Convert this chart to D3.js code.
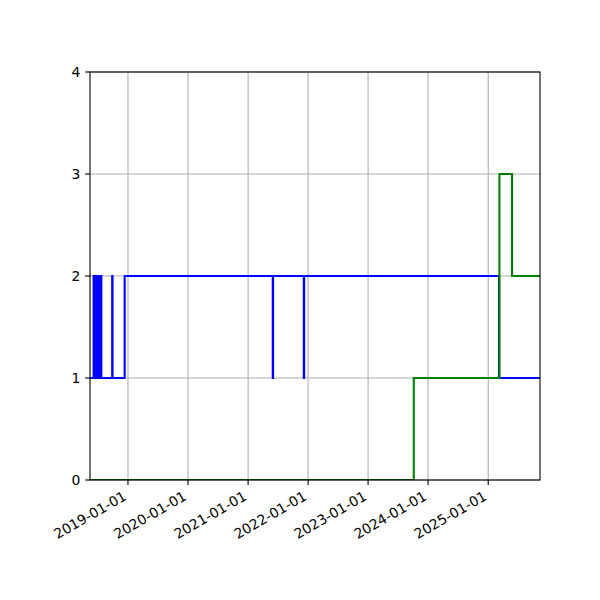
<!DOCTYPE html>
<html>
<head>
<meta charset="utf-8">
<script src="https://cdn.jsdelivr.net/npm/d3@7"></script>
<style>
  body { margin: 0; background: #fff; }
  text { font-family: "DejaVu Sans", sans-serif; font-size: 13.9px; fill: #000; }
</style>
</head>
<body>
<svg width="600" height="600"></svg>
<script>
// step series, value holds from its date until the next one
var blueDates = [
  "2018-05-15", "2018-06-06", "2018-06-08", "2018-06-10", "2018-06-13",
  "2018-06-15", "2018-06-18", "2018-06-20", "2018-06-23", "2018-06-26",
  "2018-06-29", "2018-07-02", "2018-07-05", "2018-07-08", "2018-07-11",
  "2018-07-14", "2018-07-17", "2018-07-20", "2018-07-23", "2018-09-27",
  "2018-09-29", "2018-12-12", "2021-05-31", "2021-06-02", "2021-12-06",
  "2021-12-08", "2025-03-08", "2025-11-12"
];
var blueValues = [
  1, 2, 1, 2, 1,
  2, 1, 2, 1, 2,
  1, 2, 1, 2, 1,
  2, 1, 2, 1, 2,
  1, 2, 1, 2, 1,
  2, 1, 1
];
var greenDates = ["2018-05-15", "2023-10-06", "2025-03-10", "2025-05-26", "2025-11-12"];
var greenValues = [0, 1, 3, 2, 2];
var yTicks = [0, 1, 2, 3, 4];

var svg = d3.select("svg");
var plotLeft = 90, plotRight = 540, plotTop = 72, plotBottom = 480;
var parse = d3.utcParse("%Y-%m-%d");

var x = d3.scaleUtc()
  .domain([parse("2018-05-15"), parse("2025-11-12")])
  .range([plotLeft, plotRight]);
var y = d3.scaleLinear().domain([0, 4]).range([plotBottom, plotTop]);

var xTicks = x.ticks(d3.utcYear.every(1)).filter(function (d) {
  return x(d) >= plotLeft && x(d) <= plotRight;
});

// grid
var grid = svg.append("g").attr("stroke", "#b0b0b0").attr("stroke-width", 1.1);
grid.selectAll("line.gx").data(xTicks).join("line").attr("class", "gx")
  .attr("x1", (d) => x(d)).attr("x2", (d) => x(d))
  .attr("y1", plotTop).attr("y2", plotBottom);
grid.selectAll("line.gy").data(yTicks).join("line").attr("class", "gy")
  .attr("x1", plotLeft).attr("x2", plotRight)
  .attr("y1", (d) => y(d)).attr("y2", (d) => y(d));

svg.append("clipPath").attr("id", "clip")
  .append("rect").attr("x", plotLeft).attr("y", plotTop)
  .attr("width", plotRight - plotLeft).attr("height", plotBottom - plotTop);

function toPoints(dates, values) {
  return dates.map(function (d, i) { return [parse(d), values[i]]; });
}

var line = d3.line()
  .x((d) => x(d[0]))
  .y((d) => y(d[1]))
  .curve(d3.curveStepAfter);

svg.append("path")
  .datum(toPoints(blueDates, blueValues))
  .attr("clip-path", "url(#clip)")
  .attr("fill", "none").attr("stroke", "#0000ff").attr("stroke-width", 2.08)
  .attr("d", line);

svg.append("path")
  .datum(toPoints(greenDates, greenValues))
  .attr("clip-path", "url(#clip)")
  .attr("fill", "none").attr("stroke", "#008000").attr("stroke-width", 2.08)
  .attr("d", line);

// spines
svg.append("rect")
  .attr("x", plotLeft).attr("y", plotTop)
  .attr("width", plotRight - plotLeft).attr("height", plotBottom - plotTop)
  .attr("fill", "none").attr("stroke", "#000").attr("stroke-width", 1.1);

// y ticks
var yt = svg.append("g");
yt.selectAll("line").data(yTicks).join("line")
  .attr("x1", plotLeft - 4.9).attr("x2", plotLeft)
  .attr("y1", (d) => y(d)).attr("y2", (d) => y(d))
  .attr("stroke", "#000").attr("stroke-width", 1.1);
yt.selectAll("text").data(yTicks).join("text")
  .attr("x", plotLeft - 9.7).attr("y", (d) => y(d))
  .attr("dy", "0.35em").attr("text-anchor", "end")
  .text((d) => d);

// x ticks, rotated labels like autofmt_xdate
var fmt = d3.utcFormat("%Y-%m-%d");
var xt = svg.append("g");
xt.selectAll("line").data(xTicks).join("line")
  .attr("x1", (d) => x(d)).attr("x2", (d) => x(d))
  .attr("y1", plotBottom).attr("y2", plotBottom + 4.9)
  .attr("stroke", "#000").attr("stroke-width", 1.1);
xt.selectAll("text").data(xTicks).join("text")
  .attr("text-anchor", "end")
  .attr("transform", (d) => "translate(" + (x(d) - 0.5) + "," + (plotBottom + 19) + ") rotate(-30)")
  .text((d) => fmt(d));
</script>
</body>
</html>
